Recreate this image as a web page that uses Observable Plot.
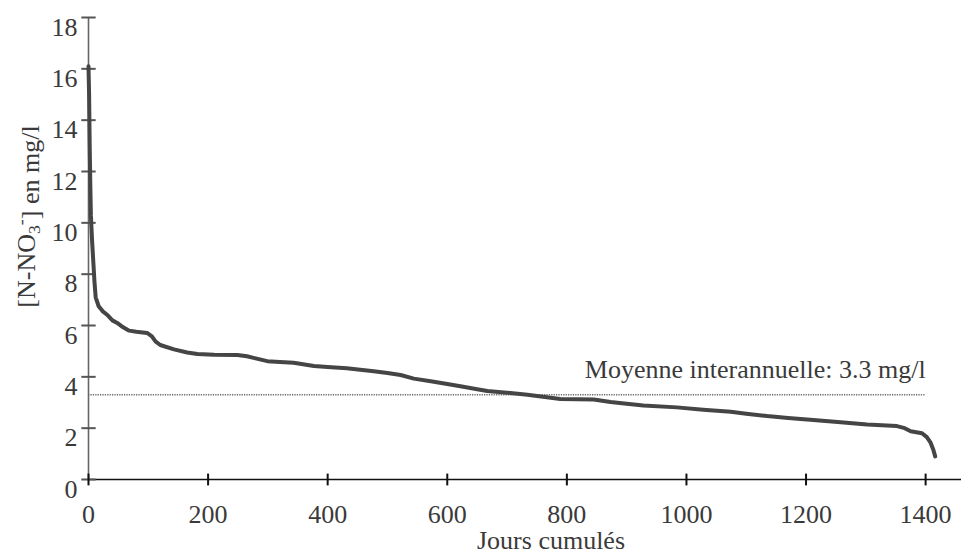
<!DOCTYPE html>
<html>
<head>
<meta charset="utf-8">
<script src="https://cdn.jsdelivr.net/npm/d3@7"></script>
<script src="https://cdn.jsdelivr.net/npm/@observablehq/plot@0.6"></script>
<style>
  html, body { margin: 0; padding: 0; background: #fff; }
  #chart { width: 961px; height: 555px; overflow: hidden; }
</style>
</head>
<body>
<div id="chart"></div>
<script>
// Courbe des concentrations classées : jours cumulés vs nitrate (mg/l)
const days = [0, 1, 2, 3, 4, 6, 8, 10, 12, 17, 24, 31, 40, 48, 58, 68, 80, 98, 106, 112, 120, 143, 165, 182, 210, 249, 265, 276, 299, 320, 343, 377, 400, 432, 477, 500, 522, 544, 575, 600, 622, 650, 667, 700, 734, 760, 789, 845, 873, 900, 928, 984, 1028, 1074, 1100, 1135, 1170, 1207, 1258, 1302, 1352, 1365, 1375, 1394, 1402, 1408, 1413, 1416];
const nitrate = [16.1, 15.0, 13.0, 11.5, 10.3, 9.3, 8.5, 7.7, 7.1, 6.75, 6.55, 6.42, 6.2, 6.1, 5.93, 5.8, 5.76, 5.71, 5.58, 5.38, 5.24, 5.07, 4.95, 4.89, 4.86, 4.85, 4.8, 4.74, 4.61, 4.58, 4.55, 4.42, 4.38, 4.33, 4.22, 4.15, 4.07, 3.93, 3.82, 3.72, 3.63, 3.52, 3.45, 3.38, 3.30, 3.22, 3.14, 3.12, 3.02, 2.95, 2.88, 2.81, 2.72, 2.64, 2.56, 2.47, 2.40, 2.33, 2.23, 2.14, 2.08, 2.0, 1.88, 1.80, 1.65, 1.45, 1.15, 0.9];

const meanValue = 3.3;
const meanEnd = 1400;
const meanLabel = "Moyenne interannuelle: 3.3 mg/l";

const xTicks = [0, 200, 400, 600, 800, 1000, 1200, 1400];
const yTicks = [0, 2, 4, 6, 8, 10, 12, 14, 16, 18];
const xTitle = "Jours cumulés";
const yTitle = "[N-NO3-] en mg/l";

const curve = days.map((d, i) => ({day: d, value: nitrate[i]}));

const ink = "#3a3a3a";
const serif = "'Liberation Serif', 'Times New Roman', 'DejaVu Serif', serif";

// demi-longueur des graduations, en unités des axes
const xTickHalf = 0.23;  // mg/l
const yTickHalf = 12;    // jours

const chart = Plot.plot({
  width: 961,
  height: 555,
  marginLeft: 88,
  marginRight: 0,
  marginTop: 17,
  marginBottom: 76,
  style: {fontFamily: serif, color: ink, background: "#fff", overflow: "visible"},
  x: {domain: [0, 1460]},
  y: {domain: [0, 18]},
  marks: [
    // moyenne interannuelle (pointillés)
    Plot.ruleY([meanValue], {x1: 0, x2: meanEnd, stroke: "#6e6e6e", strokeWidth: 1.6, strokeDasharray: "1.3,1.1"}),
    // axes
    Plot.ruleX([0], {y1: 0, y2: 18, stroke: "#666", strokeWidth: 1.6}),
    Plot.ruleY([0], {stroke: "#111", strokeWidth: 1.3}),
    // graduations traversant les axes
    Plot.link(yTicks, {x1: -yTickHalf, x2: yTickHalf, y1: d => d, y2: d => d, stroke: "#555", strokeWidth: 2}),
    Plot.link(xTicks, {x1: d => d, x2: d => d, y1: -xTickHalf, y2: xTickHalf, stroke: "#111", strokeWidth: 2}),
    // étiquettes des graduations
    Plot.axisY({ticks: yTicks, tickSize: 0, tickPadding: 11, dy: 10, fontSize: 26, tickFormat: d => String(d), label: null}),
    Plot.axisX({ticks: xTicks, tickSize: 0, tickPadding: 25, fontSize: 26, tickFormat: d => String(d), label: null}),
    // courbe classée
    Plot.line(curve, {x: "day", y: "value", stroke: "#454545", strokeWidth: 4, strokeLinejoin: "round", strokeLinecap: "round"}),
    // libellé de la moyenne
    Plot.text([meanLabel], {x: meanEnd, y: meanValue, text: d => d, textAnchor: "end", lineAnchor: "bottom", dy: -17, fontSize: 26, fill: ink}),
    // titres des axes
    Plot.text([xTitle], {frameAnchor: "bottom", text: d => d, dx: 26, dy: 61, lineAnchor: "middle", fontSize: 26, fill: ink}),
    Plot.text([yTitle], {frameAnchor: "left", text: d => d, dx: -62, dy: -32, rotate: -90, textAnchor: "middle", lineAnchor: "middle", fontSize: 26, fill: ink})
  ]
});

// indice 3 et exposant "-" dans le titre de l'axe vertical
d3.select(chart).selectAll("text").filter(function () { return this.textContent === yTitle; })
  .each(function () {
    const t = d3.select(this);
    t.text(null);
    t.append("tspan").text("[N-NO");
    t.append("tspan").attr("dy", "0.28em").attr("font-size", "0.68em").text("3");
    t.append("tspan").attr("dy", "-0.75em").attr("font-size", "0.68em").text("-");
    t.append("tspan").attr("dy", "0.47em").text("] en mg/l");
  });

document.getElementById("chart").appendChild(chart);
</script>
</body>
</html>
